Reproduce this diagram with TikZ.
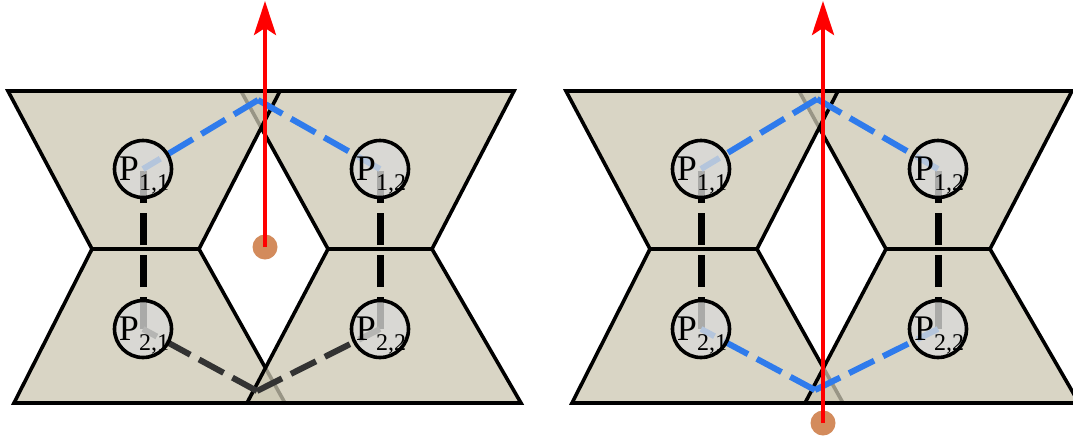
\documentclass[tikz,border=0pt]{standalone}
\usepackage{fontspec}
\setmainfont{Liberation Serif}
\usetikzlibrary{arrows.meta}
\definecolor{trapfill}{RGB}{204,199,178}
\definecolor{circfill}{RGB}{218,218,216}
\definecolor{linkblue}{RGB}{47,123,236}
\definecolor{linkgray}{RGB}{51,51,51}
\definecolor{dotorange}{RGB}{211,139,92}
\pgfdeclarelayer{back}
\pgfdeclarelayer{mid}
\pgfsetlayers{back,mid,main}
\newcommand{\plab}[2]{P\raisebox{-10pt}{\fontsize{24}{24}\selectfont #1,#2}}
\tikzset{
  trap/.style={draw=black,line width=3.6pt,fill=trapfill,fill opacity=0.75,line join=miter},
  pnode/.style={circle,draw=black,line width=3.6pt,fill=circfill,fill opacity=0.78,text opacity=1,minimum size=57pt,inner sep=0pt},
  plabel/.style={anchor=base,inner sep=0pt,font=\fontsize{36}{36}\selectfont},
  vlink/.style={draw=black,line width=7pt,dash pattern=on 32pt off 10pt},
  blink/.style={draw=linkblue,line width=6pt,dash pattern=on 28pt off 10pt},
  glink/.style={draw=linkgray,line width=6pt,dash pattern=on 28pt off 10pt},
  ray/.style={draw=red,line width=4pt,-{Stealth[length=34pt,width=22pt,inset=7pt]}},
  hitdot/.style={circle,fill=dotorange,minimum size=25pt,inner sep=0pt}
}
\begin{document}
\begin{tikzpicture}[x=1pt,y=-1pt]
\useasboundingbox (0,0) rectangle (1073,440);
% ---------------- left panel ----------------
\begin{scope}
\begin{pgfonlayer}{back}
\draw[trap] (241,91) -- (514,91) -- (432,249) -- (328,249) -- cycle;
\draw[trap] (8,91) -- (280,91) -- (199,249) -- (92,249) -- cycle;
\draw[trap] (92,249) -- (199,249) -- (285,403) -- (14,403) -- cycle;
\draw[trap] (328,249) -- (432,249) -- (521,403) -- (247,403) -- cycle;
\end{pgfonlayer}
\coordinate (aT) at (258,100);
\coordinate (aB) at (257,391);
\node[pnode] (a11) at (143,169) {};
\node[pnode] (a12) at (380,169) {};
\node[pnode] (a21) at (143,329) {};
\node[pnode] (a22) at (380,329) {};
\node[plabel] (a11t) at ([xshift=1pt,yshift=-11pt]a11.center) {\plab{1}{1}};
\node[plabel] (a12t) at ([xshift=1pt,yshift=-11pt]a12.center) {\plab{1}{2}};
\node[plabel] (a21t) at ([xshift=1pt,yshift=-11pt]a21.center) {\plab{2}{1}};
\node[plabel] (a22t) at ([xshift=1pt,yshift=-11pt]a22.center) {\plab{2}{2}};
\begin{pgfonlayer}{mid}
\draw[vlink] (a21.center) -- (a11.center);
\draw[vlink] (a22.center) -- (a12.center);
\draw[blink] (aT) -- (a11.center);
\draw[blink] (aT) -- (a12.center);
\draw[glink] (aB) -- (a21.center);
\draw[glink] (aB) -- (a22.center);
\end{pgfonlayer}
\node[hitdot] (adot) at (265,247) {};
\coordinate (atop) at (265,1);
\draw[ray] (adot.center) -- (atop);
\end{scope}
% ---------------- right panel ----------------
\begin{scope}[xshift=558pt]
\begin{pgfonlayer}{back}
\draw[trap] (241,91) -- (514,91) -- (432,249) -- (328,249) -- cycle;
\draw[trap] (8,91) -- (280,91) -- (199,249) -- (92,249) -- cycle;
\draw[trap] (92,249) -- (199,249) -- (285,403) -- (14,403) -- cycle;
\draw[trap] (328,249) -- (432,249) -- (521,403) -- (247,403) -- cycle;
\end{pgfonlayer}
\coordinate (bT) at (259,99);
\coordinate (bB) at (257,390);
\node[pnode] (b11) at (143,169) {};
\node[pnode] (b12) at (380,169) {};
\node[pnode] (b21) at (143,329) {};
\node[pnode] (b22) at (380,329) {};
\node[plabel] (b11t) at ([xshift=1pt,yshift=-11pt]b11.center) {\plab{1}{1}};
\node[plabel] (b12t) at ([xshift=1pt,yshift=-11pt]b12.center) {\plab{1}{2}};
\node[plabel] (b21t) at ([xshift=1pt,yshift=-11pt]b21.center) {\plab{2}{1}};
\node[plabel] (b22t) at ([xshift=1pt,yshift=-11pt]b22.center) {\plab{2}{2}};
\begin{pgfonlayer}{mid}
\draw[vlink] (b21.center) -- (b11.center);
\draw[vlink] (b22.center) -- (b12.center);
\draw[blink] (bT) -- (b11.center);
\draw[blink] (bT) -- (b12.center);
\draw[blink] (bB) -- (b21.center);
\draw[blink] (bB) -- (b22.center);
\end{pgfonlayer}
\node[hitdot] (bdot) at (265,423) {};
\coordinate (btop) at (265,1);
\draw[ray] (bdot.center) -- (btop);
\end{scope}
\end{tikzpicture}
\end{document}
